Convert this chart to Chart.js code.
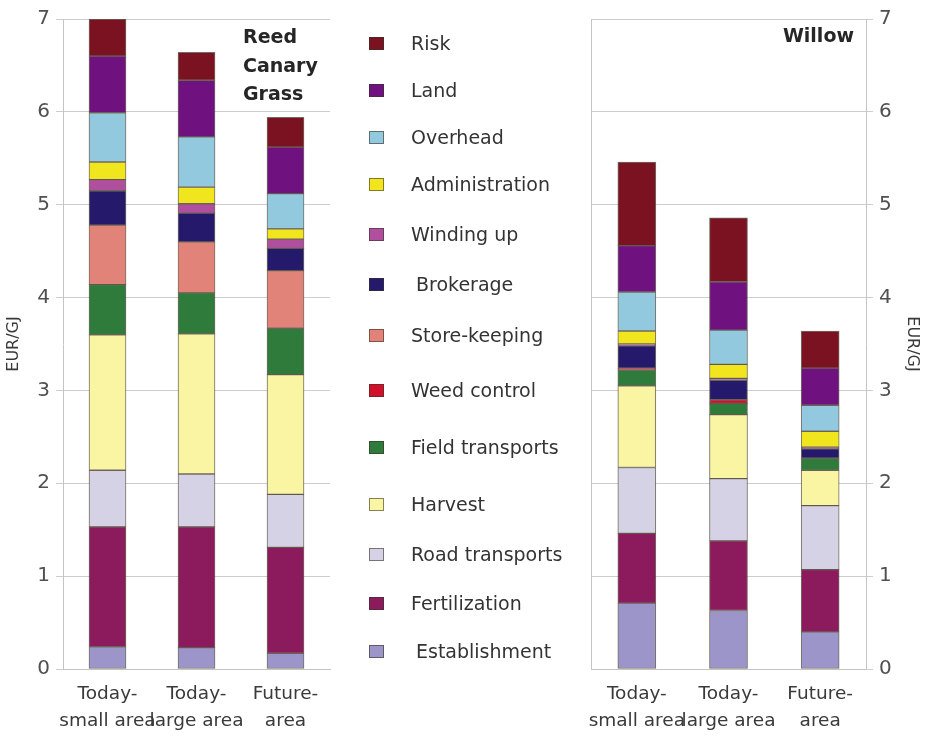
<!DOCTYPE html>
<html>
<head>
<meta charset="utf-8">
<script src="https://cdn.jsdelivr.net/npm/chart.js@4/dist/chart.umd.min.js"></script>
<style>
  html, body { margin: 0; padding: 0; background: #fff; }
  #wrap { position: relative; width: 926px; height: 737px; overflow: hidden; font-family: "DejaVu Sans", sans-serif; }
  .cv { position: absolute; top: 0; }
  #c1 { left: 0; width: 340px; height: 737px; }
  #c2 { left: 570px; width: 356px; height: 737px; }
  .panel { position: absolute; color: #262626; font-weight: bold; font-size: 19px; line-height: 28.5px; }
  #legend { position: absolute; left: 0; top: 0; }
  .li { position: absolute; left: 369px; height: 26px; display: flex; align-items: center; white-space: nowrap; }
  .sw { width: 15px; height: 13px; box-sizing: border-box; border: 1px solid rgba(60,50,40,0.6); }
  .lt { margin-left: 27px; font-size: 19px; color: #333; }
</style>
</head>
<body>
<div id="wrap">
  <canvas id="c1" class="cv" width="340" height="737"></canvas>
  <canvas id="c2" class="cv" width="356" height="737"></canvas>
  <div class="panel" style="left:243px; top:22px;">Reed<br>Canary<br>Grass</div>
  <div class="panel" style="left:700px; width:154px; text-align:right; top:21px;">Willow</div>
  <div id="legend"></div>
</div>
<script>
// ---- data ----
const categories = [["Today-", "small area"], ["Today-", "large area"], ["Future-", "area"]];
const seriesNames = ["Establishment", "Fertilization", "Road transports", "Harvest", "Field transports",
  "Weed control", "Store-keeping", "Brokerage", "Winding up", "Administration", "Overhead", "Land", "Risk"];
const seriesColors = ["#9b95c9", "#8b1b5c", "#d6d2e6", "#f9f5a2", "#2f7b3b",
  "#d2102c", "#e2837a", "#25196b", "#b14f9f", "#f1e61e", "#93c9de", "#6f117f", "#7b1222"];
const yTicks = [0, 1, 2, 3, 4, 5, 6, 7];
const yTitle = "EUR/GJ";

// values per bar, in the order of seriesNames (bottom to top)
const reedTodaySmall = [0.24, 1.29, 0.61, 1.46, 0.54, 0, 0.64, 0.37, 0.12, 0.19, 0.53, 0.61, 0.40];
const reedTodayLarge = [0.23, 1.30, 0.57, 1.51, 0.44, 0, 0.55, 0.31, 0.10, 0.18, 0.54, 0.61, 0.30];
const reedFuture     = [0.17, 1.14, 0.57, 1.29, 0.50, 0, 0.62, 0.24, 0.10, 0.11, 0.38, 0.50, 0.32];
const willowTodaySmall = [0.71, 0.75, 0.71, 0.88, 0.17, 0.02, 0, 0.24, 0.02, 0.14, 0.42, 0.50, 0.90];
const willowTodayLarge = [0.63, 0.75, 0.67, 0.69, 0.12, 0.04, 0, 0.21, 0.02, 0.15, 0.37, 0.52, 0.69];
const willowFuture     = [0.40, 0.67, 0.69, 0.38, 0.13, 0, 0, 0.10, 0.02, 0.17, 0.28, 0.40, 0.40];

const reedBars = [reedTodaySmall, reedTodayLarge, reedFuture];
const willowBars = [willowTodaySmall, willowTodayLarge, willowFuture];

// ---- layout of the legend column (pixel centres, top item = Risk) ----
const legendRowY = [43, 90, 137, 184, 234, 284, 335, 390, 447, 504, 554, 603, 651];

// ---- legend (HTML, top = Risk) ----
const legend = document.getElementById("legend");
const order = seriesNames.map((_, i) => i).reverse();
order.forEach((si, k) => {
  const item = document.createElement("div");
  item.className = "li";
  item.style.top = (legendRowY[k] - 13) + "px";
  const sw = document.createElement("div");
  sw.className = "sw";
  sw.style.background = seriesColors[si];
  const t = document.createElement("span");
  t.className = "lt";
  t.textContent = seriesNames[si];
  if (seriesNames[si] === "Brokerage" || seriesNames[si] === "Establishment") t.style.marginLeft = "32px";
  item.appendChild(sw); item.appendChild(t);
  legend.appendChild(item);
});

// ---- charts ----
const frame = {
  id: "frame",
  afterDraw(chart, args, opts) {
    if (!opts.on) return;
    const a = chart.chartArea, ctx = chart.ctx;
    ctx.save();
    ctx.strokeStyle = "#c4c4c4";
    ctx.lineWidth = 1;
    ctx.beginPath();
    ctx.moveTo(Math.round(a.left) + 0.5, a.top);
    ctx.lineTo(Math.round(a.left) + 0.5, a.bottom);
    ctx.stroke();
    ctx.restore();
  }
};

function makeChart(id, bars, side) {
  const datasets = seriesNames.map((name, si) => ({
    label: name,
    data: bars.map(b => b[si]),
    backgroundColor: seriesColors[si],
    borderColor: "rgba(70,60,45,0.75)",
    borderWidth: 1,
    borderSkipped: false,
    barThickness: side === "left" ? 37 : 38
  }));
  const isLeft = side === "left";
  return new Chart(document.getElementById(id), {
    type: "bar",
    data: { labels: categories, datasets },
    plugins: [frame],
    options: {
      responsive: false,
      animation: false,
      events: [],
      layout: { padding: isLeft ? { top: 19, right: 10, left: 0, bottom: 0 } : { top: 19, right: 0, left: 21, bottom: 0 } },
      plugins: { legend: { display: false }, tooltip: { enabled: false }, frame: { on: !isLeft } },
      scales: {
        x: {
          stacked: true,
          grid: { display: false, drawTicks: false },
          border: { display: true, color: "#c4c4c4" },
          ticks: {
            color: "#3a3a3a",
            font: { family: "DejaVu Sans", size: 18.5, lineHeight: 1.45 },
            padding: 12, maxRotation: 0, autoSkip: false
          },
          afterFit(s) { s.height = 68; }
        },
        y: {
          stacked: true,
          position: isLeft ? "left" : "right",
          min: 0, max: 7,
          afterBuildTicks(s) { s.ticks = yTicks.map(v => ({ value: v })); },
          grid: { color: "#cdcdcd", lineWidth: 1, tickLength: 7, drawTicks: true },
          border: { display: true, color: "#c4c4c4" },
          ticks: { color: "#505050", font: { family: "DejaVu Sans", size: 20 }, padding: 6 },
          title: { display: true, text: yTitle, color: "#3a3a3a", font: { family: "DejaVu Sans", size: 16 }, padding: 4 },
          afterFit(s) { s.width = isLeft ? 63 : 60; }
        }
      }
    }
  });
}

makeChart("c1", reedBars, "left");
makeChart("c2", willowBars, "right");
</script>
</body>
</html>
